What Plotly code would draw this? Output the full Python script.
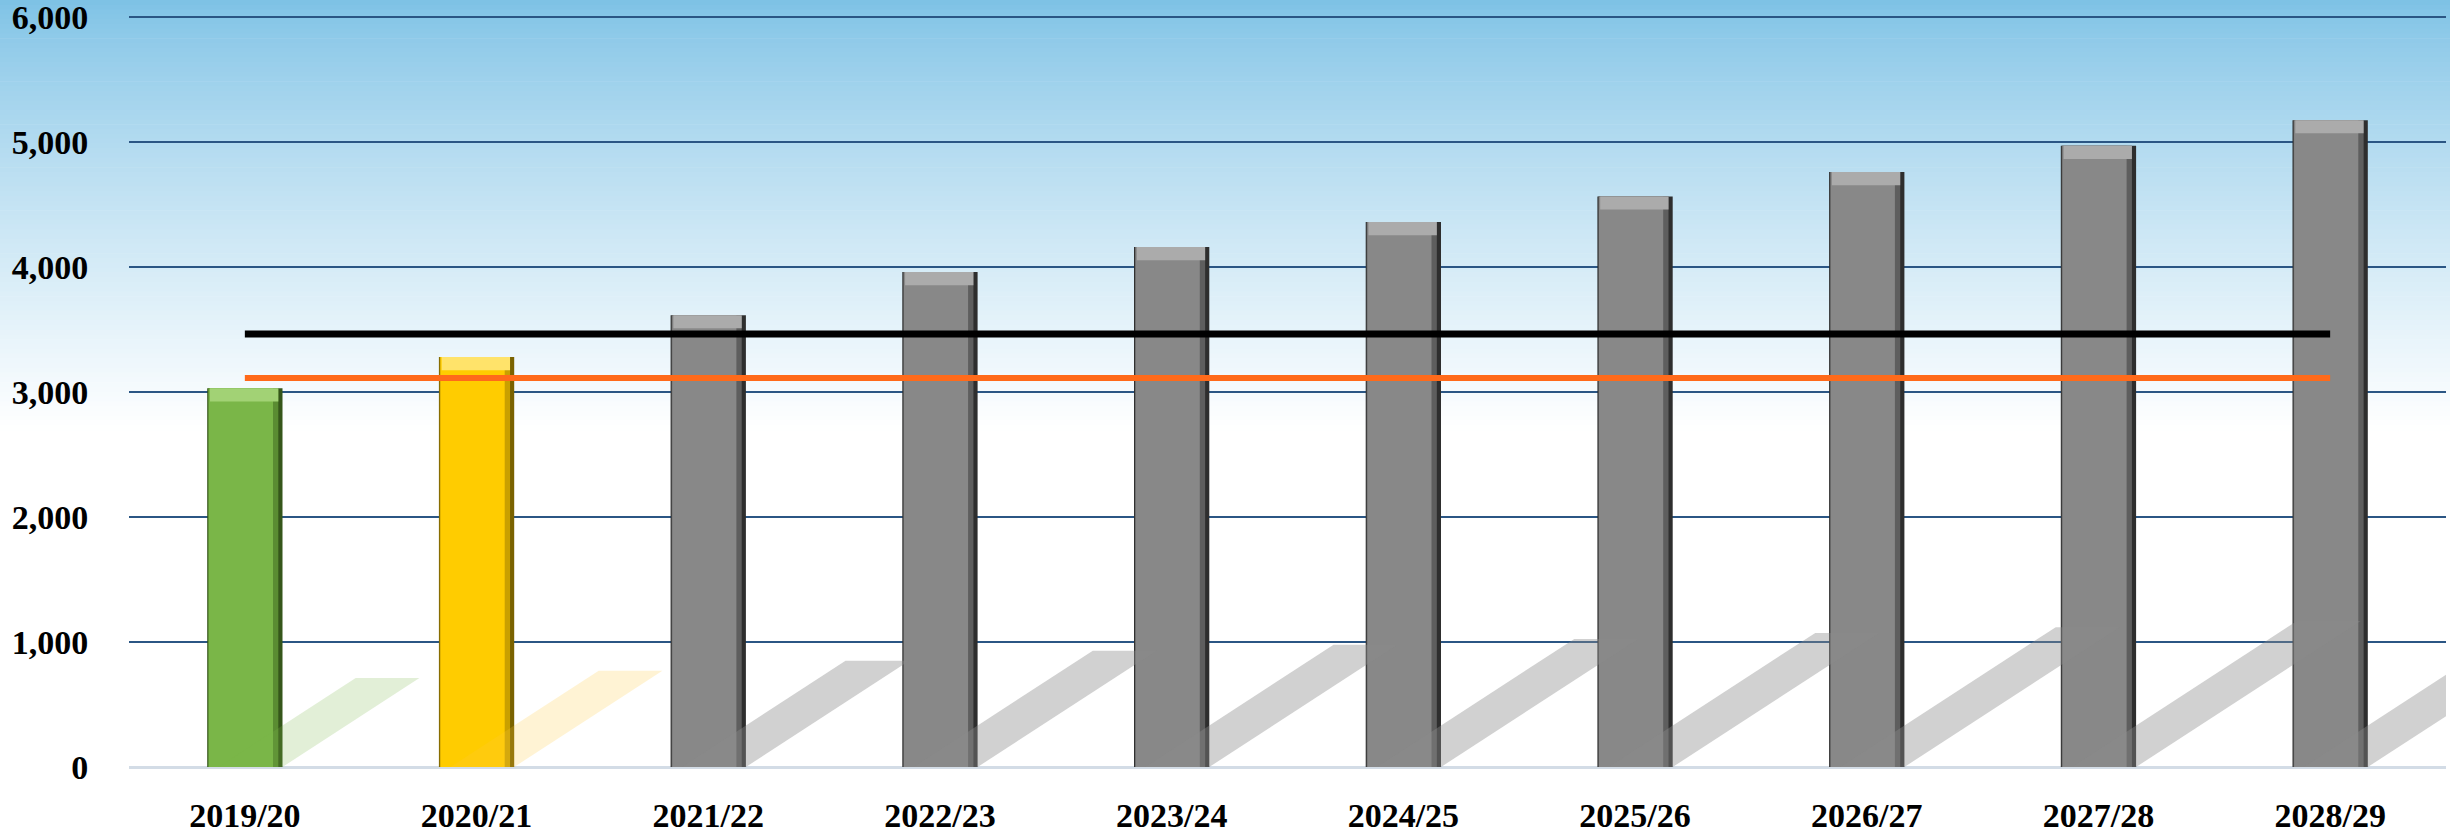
import plotly.graph_objects as go

# ---- data ----
categories = ["2019/20", "2020/21", "2021/22", "2022/23", "2023/24",
              "2024/25", "2025/26", "2026/27", "2027/28", "2028/29"]
values = [3030, 3280, 3615, 3960, 4160, 4360, 4565, 4760, 4970, 5175]
y_ticks = [0, 1000, 2000, 3000, 4000, 5000, 6000]
bar_colors = ["#7AB648", "#FFCC00"] + ["#888888"] * 8
mid_colors = ["#5A8C32", "#C9A000"] + ["#5E5E5E"] * 8
edge_colors = ["#35561A", "#7A6200"] + ["#2E2E2E"] * 8
cap_colors = ["#A2D275", "#FFE36A"] + ["#ABABAB"] * 8
shadow_colors = ["rgba(122,182,72,0.22)", "rgba(255,200,60,0.22)"] + ["rgba(140,140,140,0.40)"] * 8
line_black = 3465
line_orange = 3112

xs = list(range(len(categories)))
BAR_W = 0.325
CAP = 105

fig = go.Figure()

# gradient background stripes (figure-wide)
W, H = 2450, 839
L, R, T, B = 129, 4, 12, 72
plot_h = H - T - B
plot_w = W - L - R
top = (124, 193, 229)
n = 90
fade_px = 430
for i in range(n):
    py0 = i * fade_px / n
    py1 = (i + 1) * fade_px / n + 0.6
    t = ((py0 + py1) / 2 / fade_px) ** 0.8
    c = tuple(int(round(top[k] + (255 - top[k]) * t)) for k in range(3))
    fig.add_shape(type="rect", xref="paper", yref="paper",
                  x0=-L / plot_w - 0.01, x1=1 + R / plot_w + 0.01,
                  y0=(H - B - py1) / plot_h, y1=(H - B - py0) / plot_h,
                  fillcolor="rgb(%d,%d,%d)" % c, line_width=0, layer="below")

# perspective shadows derived from bar values
for x, v, sc in zip(xs, values, shadow_colors):
    dx = v * 1.95e-4
    dy = v * 0.235
    px = [x - BAR_W / 2 + 0.05, x + BAR_W / 2, x + BAR_W / 2 + dx, x - BAR_W / 2 + dx + 0.05]
    py = [0, 0, dy, dy]
    fig.add_trace(go.Scatter(x=px + [px[0]], y=py + [py[0]], mode="lines", fill="toself",
                             fillcolor=sc, line=dict(width=0), hoverinfo="skip",
                             showlegend=False))

# bevelled bars: dark body, mid-dark right strip, main face, light top cap
fig.add_trace(go.Bar(x=xs, y=values, width=BAR_W, marker=dict(color=edge_colors, line_width=0),
                     showlegend=False))
fig.add_trace(go.Bar(x=xs, y=values, width=BAR_W - 0.022, offset=-BAR_W / 2 + 0.004,
                     marker=dict(color=mid_colors, line_width=0), showlegend=False))
fig.add_trace(go.Bar(x=xs, y=values, width=BAR_W - 0.048, offset=-BAR_W / 2 + 0.007,
                     marker=dict(color=bar_colors, line_width=0), showlegend=False))
fig.add_trace(go.Bar(x=xs, y=[CAP] * len(xs), base=[v - CAP for v in values],
                     width=BAR_W - 0.03, offset=-BAR_W / 2 + 0.012,
                     marker=dict(color=cap_colors, line_width=0), showlegend=False))

fig.add_trace(go.Scatter(x=xs, y=[line_black] * len(xs), mode="lines",
                         line=dict(color="#000000", width=7), showlegend=False))
fig.add_trace(go.Scatter(x=xs, y=[line_orange] * len(xs), mode="lines",
                         line=dict(color="#FF6A1A", width=6), showlegend=False))

fig.update_layout(
    width=W, height=H,
    margin=dict(l=L, r=R, t=T, b=B),
    paper_bgcolor="white",
    plot_bgcolor="rgba(0,0,0,0)",
    showlegend=False,
    barmode="overlay",
    xaxis=dict(range=[-0.5, 9.5], tickvals=xs, ticktext=categories,
               showgrid=False, zeroline=False, showline=False,
               ticks="outside", ticklen=18, tickcolor="rgba(0,0,0,0)",
               tickfont=dict(family="Liberation Serif", size=34,
                             color="#000000", weight="bold"),
               ticklabeloverflow="allow",
               automargin=False, fixedrange=True),
    yaxis=dict(range=[0, 6040], tickvals=y_ticks, tickformat=",",
               showgrid=True, gridcolor="#2B5684", gridwidth=2,
               zeroline=True, zerolinecolor="#D3DCE6", zerolinewidth=3,
               showline=False, ticks="outside", ticklen=33, tickcolor="rgba(0,0,0,0)",
               tickfont=dict(family="Liberation Serif", size=34, color="#000000", weight="bold"),
               ticklabeloverflow="allow",
               automargin=False, fixedrange=True),
)

fig.write_html("out.html", config={"displayModeBar": False},
               post_script="document.body.style.margin='0';")
